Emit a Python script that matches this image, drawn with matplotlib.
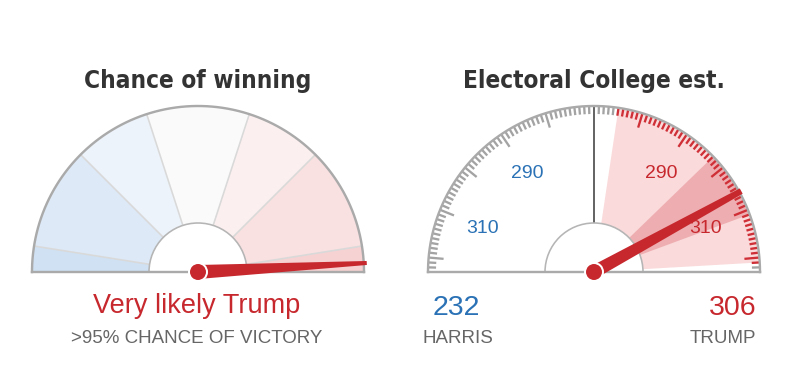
import numpy as np
import matplotlib
matplotlib.use("Agg")
import matplotlib.pyplot as plt
from matplotlib import font_manager
from matplotlib.patches import Wedge, Circle, Polygon
from matplotlib.lines import Line2D

# chance of winning gauge: sector bounds (Trump win %, left to right = Harris to Trump)
win_bounds = [0, 5, 25, 40, 60, 75, 95, 100]
win_colors = ["#cfe1f3", "#dde9f6", "#edf3fa", "#fafafa", "#fcefef", "#f9e0e1", "#f6d2d3"]
trump_win_pct = 98.3
verdict = "Very likely Trump"
verdict_sub = ">95% CHANCE OF VICTORY"

# electoral college gauge
ev_trump = 306
ev_harris = 232
ev_range = (275, 321)     # shaded range on the Trump side
ev_mid = (297, 311)       # darker inner band
scale_labels = [290, 310]
deg_per_ev = 1.7

RED = "#c7282e"
BLUE = "#2a72b5"
GRAY = "#aaaaaa"
PX = 0.72  # points per pixel at 100 dpi

R, RIN = 166, 49
LC = (198, 114)
RC = (594, 114)


def pick_title_font():
    # try for a condensed bold face, otherwise fall back to a plain sans at a smaller size
    tries = [dict(family="Liberation Sans Narrow", stretch="normal", key="Narrow", size=20),
             dict(family="DejaVu Sans", stretch="condensed", key="Condensed", size=17.5),
             dict(family="Roboto Condensed", stretch="normal", key="Condensed", size=20)]
    for t in tries:
        fp = font_manager.FontProperties(family=t["family"], weight="bold", stretch=t["stretch"])
        try:
            path = font_manager.findfont(fp, fallback_to_default=False)
        except Exception:
            continue
        if t["key"].lower() in path.lower():
            return dict(family=t["family"], fontstretch=t["stretch"]), t["size"]
    return dict(family=["Liberation Sans", "DejaVu Sans"]), 18.5


title_kw, title_size = pick_title_font()

fig = plt.figure(figsize=(7.9, 3.86), dpi=100)
ax = fig.add_axes([0, 0, 1, 1])
ax.set_xlim(0, 790)
ax.set_ylim(0, 386)
ax.axis("off")

body = ["Liberation Sans", "DejaVu Sans"]


def needle(cx, cy, ang, length, w0, w1):
    a = np.radians(ang)
    ux, uy = np.cos(a), np.sin(a)
    px, py = -uy, ux
    pts = [(cx + px * w0 / 2, cy + py * w0 / 2),
           (cx + ux * length + px * w1 / 2, cy + uy * length + py * w1 / 2),
           (cx + ux * length - px * w1 / 2, cy + uy * length - py * w1 / 2),
           (cx - px * w0 / 2, cy - py * w0 / 2)]
    ax.add_patch(Polygon(pts, closed=True, fc=RED, ec="none", zorder=8))
    ax.add_patch(Circle((cx, cy), 9, fc=RED, ec="white", lw=2 * PX, zorder=9))


def base(cx, cy):
    # inner white half disc, baseline and outer arc
    ax.add_patch(Wedge((cx, cy), RIN, 0, 180, fc="white", ec="#b5b5b5", lw=1.6 * PX, zorder=5))
    ax.add_line(Line2D([cx - R, cx + R], [cy, cy], color=GRAY, lw=2.4 * PX, zorder=6))
    t = np.linspace(0, np.pi, 200)
    ax.plot(cx + R * np.cos(t), cy + R * np.sin(t), color=GRAY, lw=2.4 * PX, zorder=6)


# ---- left gauge ----
cx, cy = LC
for i, col in enumerate(win_colors):
    t1 = 180 * (1 - win_bounds[i + 1] / 100)
    t2 = 180 * (1 - win_bounds[i] / 100)
    ax.add_patch(Wedge((cx, cy), R, t1, t2, fc=col, ec="none", zorder=1))
for b in win_bounds[1:-1]:
    a = np.radians(180 * (1 - b / 100))
    ax.plot([cx + RIN * np.cos(a), cx + R * np.cos(a)],
            [cy + RIN * np.sin(a), cy + R * np.sin(a)], color="#d9d9d9", lw=1.6 * PX, zorder=2)
base(cx, cy)
needle(cx, cy, 180 * (1 - trump_win_pct / 100), 169, 14, 4)

ax.text(cx, 298, "Chance of winning", ha="center", va="baseline", fontsize=title_size,
        weight="bold", color="#333333", **title_kw)
ax.text(cx - 1, 73, verdict, ha="center", va="baseline", fontsize=19.5, color=RED, family=body)
ax.text(cx - 1, 43, verdict_sub, ha="center", va="baseline", fontsize=13.5, color="#666666", family=body)

# ---- right gauge ----
cx, cy = RC


def ev_ang(ev, side):
    return 90 - side * (ev - 270) * deg_per_ev


ax.add_patch(Wedge((cx, cy), R - 1, ev_ang(ev_range[1], 1), ev_ang(ev_range[0], 1),
                   fc="#fadadb", ec="none", zorder=1))
ax.add_patch(Wedge((cx, cy), R - 1, ev_ang(ev_mid[1], 1), ev_ang(ev_mid[0], 1),
                   fc="#eeaeb1", ec="none", zorder=1))

for side in (1, -1):
    for ev in range(271, 323):
        a = np.radians(ev_ang(ev, side))
        ln = 15 if ev % 10 == 0 else 8
        col = "#cf2f36" if (side == 1 and ev_range[0] <= ev <= ev_range[1]) else "#a3a3a3"
        ax.plot([cx + (R - ln) * np.cos(a), cx + R * np.cos(a)],
                [cy + (R - ln) * np.sin(a), cy + R * np.sin(a)], color=col, lw=2.3 * PX,
                solid_capstyle="butt", zorder=4)
    for v in scale_labels:
        a = np.radians(ev_ang(v, side))
        ax.text(cx + 120 * np.cos(a), cy + 120 * np.sin(a) - 1, str(v), ha="center", va="center",
                fontsize=14, color=RED if side == 1 else BLUE, family=body, zorder=7)

ax.plot([cx, cx], [cy + RIN, cy + R], color="#555555", lw=1.8 * PX, zorder=4)
base(cx, cy)
needle(cx, cy, ev_ang(ev_trump, 1), 168, 13, 6)

ax.text(cx, 298, "Electoral College est.", ha="center", va="baseline", fontsize=title_size,
        weight="bold", color="#333333", **title_kw)
ax.text(433, 71, str(ev_harris), ha="left", va="baseline", fontsize=20.5, color=BLUE, family=body)
ax.text(422, 43, "HARRIS", ha="left", va="baseline", fontsize=13.5, color="#666666", family=body)
ax.text(757, 71, str(ev_trump), ha="right", va="baseline", fontsize=20.5, color=RED, family=body)
ax.text(756, 43, "TRUMP", ha="right", va="baseline", fontsize=13.5, color="#666666", family=body)

fig.savefig("out.png", dpi=100, facecolor="white")
